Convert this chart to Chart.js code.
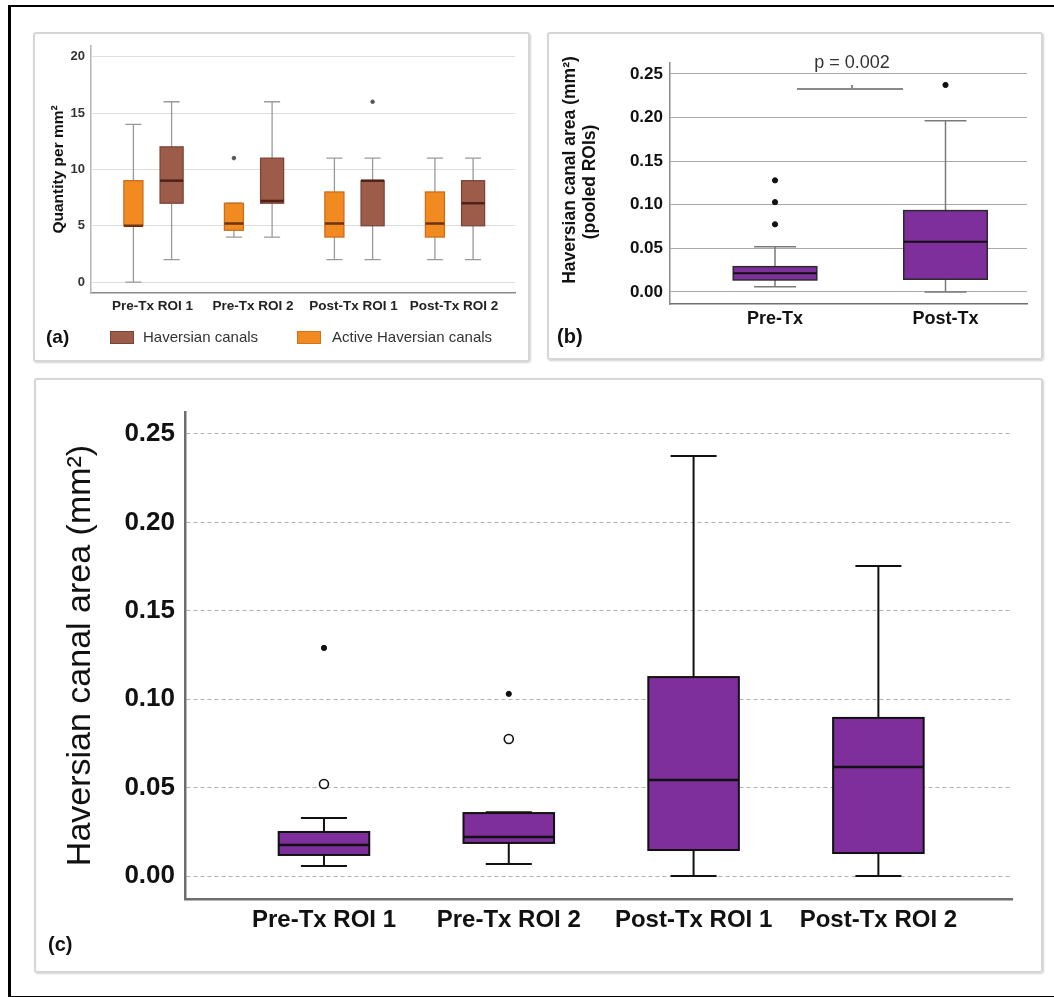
<!DOCTYPE html>
<html>
<head>
<meta charset="utf-8">
<script src="https://cdn.jsdelivr.net/npm/chart.js@4.4.1/dist/chart.umd.min.js"></script>
<style>
  html, body { margin: 0; padding: 0; background: #fff; }
  body { width: 1054px; height: 997px; position: relative; overflow: hidden; }
  .outer { position: absolute; left: 8px; top: 5px; width: 1100px; height: 989px;
           border-top: 2px solid #000; border-left: 3px solid #000; border-bottom: 2px solid #000; }
  .panel { position: absolute; box-sizing: border-box; border: 2px solid #d6d6d6; border-radius: 3px;
           box-shadow: 1px 1px 2px rgba(0,0,0,0.18); pointer-events: none; }
  canvas { position: absolute; }
</style>
</head>
<body>
<div class="outer"></div>
<canvas id="chartA" style="left:33px;top:32px;width:497px;height:330px"></canvas>
<canvas id="chartB" style="left:547px;top:32px;width:496px;height:328px"></canvas>
<canvas id="chartC" style="left:34px;top:378px;width:1009px;height:595px"></canvas>
<div class="panel" style="left:33px;top:32px;width:497px;height:330px"></div>
<div class="panel" style="left:547px;top:32px;width:496px;height:328px"></div>
<div class="panel" style="left:34px;top:378px;width:1009px;height:595px"></div>
<script>
// ---- panel (a): counts per mm2 ----
const aCategories = ['Pre-Tx ROI 1', 'Pre-Tx ROI 2', 'Post-Tx ROI 1', 'Post-Tx ROI 2'];
const aTicks = [0, 5, 10, 15, 20];
const aHavMin = [2, 4, 2, 2];
const aHavQ1 = [7, 7, 5, 5];
const aHavMedian = [9, 7.2, 9, 7];
const aHavQ3 = [12, 11, 9, 9];
const aHavMax = [16, 16, 11, 11];
const aHavOutliers = [[], [], [16], []];
const aActMin = [0, 4, 2, 2];
const aActQ1 = [5, 4.6, 4, 4];
const aActMedian = [5, 5.2, 5.2, 5.2];
const aActQ3 = [9, 7, 8, 8];
const aActMax = [14, 7, 11, 11];
const aActOutliers = [[], [11], [], []];

// ---- panel (b): pooled ROIs ----
const bCategories = ['Pre-Tx', 'Post-Tx'];
const bTicks = [0, 0.05, 0.10, 0.15, 0.20, 0.25];
const bMin = [0.006, 0.0];
const bQ1 = [0.0138, 0.0146];
const bMedian = [0.0214, 0.0577];
const bQ3 = [0.029, 0.0933];
const bMax = [0.052, 0.1965];
const bOutliers = [[0.0776, 0.103, 0.128], [0.2374]];
const bPValue = 'p = 0.002';
const bBracketLevel = 0.2328;

// ---- panel (c): canal area per ROI ----
const cCategories = ['Pre-Tx ROI 1', 'Pre-Tx ROI 2', 'Post-Tx ROI 1', 'Post-Tx ROI 2'];
const cTicks = [0, 0.05, 0.10, 0.15, 0.20, 0.25];
const cMin = [0.0057, 0.0068, 0.0, 0.0];
const cQ1 = [0.0119, 0.0187, 0.0147, 0.013];
const cMedian = [0.0175, 0.022, 0.0543, 0.0616];
const cQ3 = [0.0249, 0.0356, 0.1125, 0.0894];
const cMax = [0.0328, 0.036, 0.2375, 0.1753];
const cMildOutliers = [[0.052], [0.0775], [], []];
const cExtremeOutliers = [[0.129], [0.103], [], []];

Chart.defaults.font.family = "'Liberation Sans', Arial, Helvetica, sans-serif";
Chart.defaults.animation = false;
Chart.defaults.events = [];
Chart.defaults.plugins.legend.display = false;
Chart.defaults.plugins.tooltip.enabled = false;

const FONT = "'Liberation Sans', Arial, sans-serif";
const HAV_FILL = '#9d5b4a';
const ACT_FILL = '#f28a22';
const PURPLE = '#7f2f9b';

// draws boxes + whiskers through the chart scales
function makeBoxPlugin(groups) {
  return {
    id: 'boxes',
    beforeDatasetsDraw(chart) {
      const {ctx, scales: {x, y}} = chart;
      const dx = v => x.getPixelForValue(v) - x.getPixelForValue(0);
      groups.forEach(g => {
        g.q1.forEach((_, i) => {
          const cx = x.getPixelForValue(i + g.offset);
          const half = dx(g.width / 2);
          const cap = dx(g.capWidth / 2);
          const yMin = y.getPixelForValue(g.min[i]);
          const yQ1 = y.getPixelForValue(g.q1[i]);
          const yMed = y.getPixelForValue(g.median[i]);
          const yQ3 = y.getPixelForValue(g.q3[i]);
          const yMax = y.getPixelForValue(g.max[i]);
          ctx.save();
          ctx.strokeStyle = g.whiskerColor;
          ctx.lineWidth = g.whiskerWidth;
          ctx.beginPath();
          ctx.moveTo(cx, yMax); ctx.lineTo(cx, yQ3);
          ctx.moveTo(cx, yQ1); ctx.lineTo(cx, yMin);
          ctx.moveTo(cx - cap, yMax); ctx.lineTo(cx + cap, yMax);
          ctx.moveTo(cx - cap, yMin); ctx.lineTo(cx + cap, yMin);
          ctx.stroke();
          ctx.fillStyle = g.fill;
          ctx.fillRect(cx - half, yQ3, half * 2, yQ1 - yQ3);
          ctx.strokeStyle = g.stroke;
          ctx.lineWidth = g.strokeWidth;
          ctx.strokeRect(cx - half, yQ3, half * 2, yQ1 - yQ3);
          ctx.strokeStyle = g.medianColor;
          ctx.lineWidth = g.medianWidth;
          ctx.beginPath();
          ctx.moveTo(cx - half, yMed); ctx.lineTo(cx + half, yMed);
          ctx.stroke();
          ctx.restore();
        });
      });
    }
  };
}

// panel letters, legends, annotations
function makeTextPlugin(draw) {
  return { id: 'texts', afterDraw(chart) { chart.ctx.save(); draw(chart); chart.ctx.restore(); } };
}

function outlierPoints(list, offset) {
  return list.flatMap((vals, i) => vals.map(v => ({x: i + offset, y: v})));
}

function fixSize(w, h) {
  return scale => {
    if (w != null) scale.width = w;
    if (h != null) scale.height = h;
  };
}

// ================= (a) =================
const aOffset = 0.19;
new Chart(document.getElementById('chartA'), {
  type: 'scatter',
  data: {
    datasets: [
      { data: outlierPoints(aActOutliers, -aOffset), pointRadius: 1.8, backgroundColor: '#555', borderColor: '#555' },
      { data: outlierPoints(aHavOutliers, aOffset), pointRadius: 1.8, backgroundColor: '#555', borderColor: '#555' }
    ]
  },
  options: {
    responsive: false,
    layout: { padding: { left: 0, top: 10, right: 15, bottom: 0 } },
    scales: {
      x: {
        type: 'linear', min: -0.612, max: 3.607,
        afterBuildTicks: s => { s.ticks = aCategories.map((_, i) => ({value: i})); },
        afterFit: fixSize(null, 69),
        grid: { display: false },
        border: { display: true, color: '#8a8a8a', width: 1.5 },
        ticks: { autoSkip: false, maxRotation: 0, padding: -3, color: '#222',
                 font: { size: 13.5, weight: 'bold' },
                 callback: v => aCategories[Math.round(v)] }
      },
      y: {
        min: -0.96, max: 20.96,
        afterBuildTicks: s => { s.ticks = aTicks.map(v => ({value: v})); },
        afterFit: fixSize(58, null),
        grid: { color: '#dedede', lineWidth: 1, drawTicks: false },
        border: { display: true, color: '#b5b5b5', width: 1.5 },
        ticks: { padding: 6, color: '#333', font: { size: 13, weight: 'bold' } },
        title: { display: true, text: 'Quantity per mm²', color: '#111',
                 font: { size: 15.5, weight: 'bold' }, padding: { top: 16, bottom: 0 } }
      }
    }
  },
  plugins: [
    makeBoxPlugin([
      { offset: -aOffset, width: 0.19, capWidth: 0.16, fill: ACT_FILL, stroke: '#c96a17', strokeWidth: 1.2,
        medianColor: '#6b3315', medianWidth: 2.5, whiskerColor: '#9a9a9a', whiskerWidth: 1.3,
        min: aActMin, q1: aActQ1, median: aActMedian, q3: aActQ3, max: aActMax },
      { offset: aOffset, width: 0.23, capWidth: 0.16, fill: HAV_FILL, stroke: '#7a4234', strokeWidth: 1.2,
        medianColor: '#4e2217', medianWidth: 2.5, whiskerColor: '#9a9a9a', whiskerWidth: 1.3,
        min: aHavMin, q1: aHavQ1, median: aHavMedian, q3: aHavQ3, max: aHavMax }
    ]),
    makeTextPlugin(chart => {
      const ctx = chart.ctx;
      ctx.textBaseline = 'middle';
      ctx.fillStyle = '#111';
      ctx.font = 'bold 19px ' + FONT;
      ctx.fillText('(a)', 13, 306);
      ctx.fillStyle = HAV_FILL; ctx.fillRect(77, 299, 24, 13);
      ctx.strokeStyle = '#7a4234'; ctx.lineWidth = 1; ctx.strokeRect(77.5, 299.5, 23, 12);
      ctx.fillStyle = ACT_FILL; ctx.fillRect(264, 299, 24, 13);
      ctx.strokeStyle = '#d0741e'; ctx.strokeRect(264.5, 299.5, 23, 12);
      ctx.fillStyle = '#333';
      ctx.font = '15px ' + FONT;
      ctx.fillText('Haversian canals', 110, 306);
      ctx.fillText('Active Haversian canals', 299, 306);
    })
  ]
});

// ================= (b) =================
const bTitleLines = ['Haversian canal area (mm²)', '(pooled ROIs)'];
new Chart(document.getElementById('chartB'), {
  type: 'scatter',
  data: {
    datasets: [
      { data: outlierPoints(bOutliers, 0), pointRadius: 2.6, backgroundColor: '#111', borderColor: '#111' }
    ]
  },
  options: {
    responsive: false,
    layout: { padding: { left: 0, top: 31, right: 16, bottom: 0 } },
    scales: {
      x: {
        type: 'linear', min: -0.616, max: 1.478,
        afterBuildTicks: s => { s.ticks = bCategories.map((_, i) => ({value: i})); },
        afterFit: fixSize(null, 56),
        grid: { display: false },
        border: { display: true, color: '#6f6f6f', width: 1.5 },
        ticks: { autoSkip: false, maxRotation: 0, padding: -4, color: '#111',
                 font: { size: 18, weight: 'bold' },
                 callback: v => bCategories[Math.round(v)] }
      },
      y: {
        min: -0.0138, max: 0.2626,
        afterBuildTicks: s => { s.ticks = bTicks.map(v => ({value: v})); },
        afterFit: fixSize(123, null),
        grid: { color: '#a9a9a9', lineWidth: 1, drawTicks: false },
        border: { display: true, color: '#8a8a8a', width: 1.5 },
        ticks: { padding: 7, color: '#111', font: { size: 17, weight: 'bold' },
                 callback: v => v.toFixed(2) }
      }
    }
  },
  plugins: [
    makeBoxPlugin([
      { offset: 0, width: 0.49, capWidth: 0.246, fill: PURPLE, stroke: '#2a2a2a', strokeWidth: 1.5,
        medianColor: '#111', medianWidth: 2, whiskerColor: '#7a7a7a', whiskerWidth: 1.5,
        min: bMin, q1: bQ1, median: bMedian, q3: bQ3, max: bMax }
    ]),
    makeTextPlugin(chart => {
      const {ctx, scales: {x, y}} = chart;
      const yb = y.getPixelForValue(bBracketLevel);
      const xl = x.getPixelForValue(0.129), xr = x.getPixelForValue(0.751), xm = x.getPixelForValue(0.452);
      ctx.strokeStyle = '#8a8a8a'; ctx.lineWidth = 2;
      ctx.beginPath();
      ctx.moveTo(xl, yb); ctx.lineTo(xr, yb);
      ctx.moveTo(xm, yb); ctx.lineTo(xm, yb - 4);
      ctx.stroke();
      ctx.fillStyle = '#333';
      ctx.textAlign = 'center'; ctx.textBaseline = 'middle';
      ctx.font = '18px ' + FONT;
      ctx.fillText(bPValue, xm, yb - 26);
      // rotated two-line axis title
      ctx.fillStyle = '#111';
      ctx.font = 'bold 17.5px ' + FONT;
      ctx.save(); ctx.translate(23, 138); ctx.rotate(-Math.PI / 2);
      ctx.fillText(bTitleLines[0], 0, 0); ctx.restore();
      ctx.save(); ctx.translate(43, 150); ctx.rotate(-Math.PI / 2);
      ctx.fillText(bTitleLines[1], 0, 0); ctx.restore();
      ctx.textAlign = 'left';
      ctx.font = 'bold 20px ' + FONT;
      ctx.fillText('(b)', 10, 305);
    })
  ]
});

// ================= (c) =================
new Chart(document.getElementById('chartC'), {
  type: 'scatter',
  data: {
    datasets: [
      { data: outlierPoints(cMildOutliers, 0), pointRadius: 4.5, borderWidth: 1.6,
        backgroundColor: '#fff', borderColor: '#111' },
      { data: outlierPoints(cExtremeOutliers, 0), pointRadius: 2.6, backgroundColor: '#111', borderColor: '#111' }
    ]
  },
  options: {
    responsive: false,
    layout: { padding: { left: 0, top: 34, right: 31, bottom: 0 } },
    scales: {
      x: {
        type: 'linear', min: -0.752, max: 3.723,
        afterBuildTicks: s => { s.ticks = cCategories.map((_, i) => ({value: i})); },
        afterFit: fixSize(null, 74),
        grid: { display: false },
        border: { display: true, color: '#6e6e6e', width: 2.5 },
        ticks: { autoSkip: false, maxRotation: 0, padding: -1, color: '#111',
                 font: { size: 24, weight: 'bold' },
                 callback: v => cCategories[Math.round(v)] }
      },
      y: {
        min: -0.013, max: 0.2624,
        afterBuildTicks: s => { s.ticks = cTicks.map(v => ({value: v})); },
        afterFit: fixSize(151, null),
        grid: { color: '#b3b3b3', lineWidth: 1, drawTicks: false },
        border: { display: true, color: '#6e6e6e', width: 2.5, dash: [4, 3] },
        ticks: { padding: 10, color: '#111', font: { size: 26, weight: 'bold' },
                 callback: v => v.toFixed(2) },
        title: { display: true, text: 'Haversian canal area (mm²)', color: '#111',
                 font: { size: 34 }, padding: { top: 26, bottom: 0 } }
      }
    }
  },
  plugins: [
    makeBoxPlugin([
      { offset: 0, width: 0.49, capWidth: 0.249, fill: PURPLE, stroke: '#111', strokeWidth: 2,
        medianColor: '#111', medianWidth: 2.5, whiskerColor: '#111', whiskerWidth: 2,
        min: cMin, q1: cQ1, median: cMedian, q3: cQ3, max: cMax }
    ]),
    makeTextPlugin(chart => {
      const ctx = chart.ctx;
      ctx.fillStyle = '#111';
      ctx.textBaseline = 'middle';
      ctx.font = 'bold 20px ' + FONT;
      ctx.fillText('(c)', 14, 567);
    })
  ]
});
</script>
</body>
</html>
